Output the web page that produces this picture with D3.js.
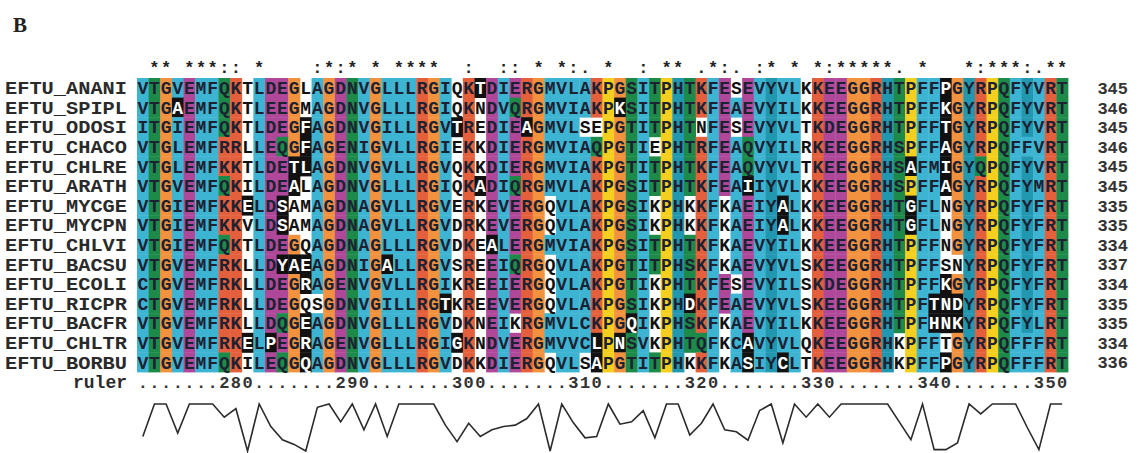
<!DOCTYPE html>
<html><head><meta charset="utf-8">
<script src="https://cdn.jsdelivr.net/npm/d3@7"></script>
<style>body{margin:0;background:#fff;overflow:hidden}</style>
</head><body>
<svg id="c" width="1138" height="453"></svg>
<script>
// ---------------- data ----------------
const names = ["EFTU_ANANI","EFTU_SPIPL","EFTU_ODOSI","EFTU_CHACO","EFTU_CHLRE","EFTU_ARATH","EFTU_MYCGE","EFTU_MYCPN","EFTU_CHLVI","EFTU_BACSU","EFTU_ECOLI","EFTU_RICPR","EFTU_BACFR","EFTU_CHLTR","EFTU_BORBU"];
const sequences = [
 "VTGVEMFQKTLDEGLAGDNVGLLLRGIQKTDIERGMVLAKPGSITPHTKFESEVYVLKKEEGGRHTPFFPGYRPQFYVRT",
 "VTGAEMFQKTLEEGMAGDNVGLLLRGIQKNDVQRGMVIAKPKSITPHTKFEAEVYILKKEEGGRHTPFFKGYRPQFYVRT",
 "ITGIEMFQKTLDEGFAGDNVGILLRGVTREDIEAGMVLSEPGTITPHTNFESEVYVLTKDEGGRHTPFFTGYRPQFYVRT",
 "VTGLEMFRRLLEQGFAGENIGVLLRGIEKKDIERGMVIAQPGTIEPHTRFEAQVYILRKEEGGRHSPFFAGYRPQFFVRT",
 "VTGLEMFKKTLDETLAGDNVGVLLRGVQKKDIERGMVIAKPGTITPHTKFEAQVYVLTKEEGGRHSAFMIGYQPQFYVRT",
 "VTGVEMFQKILDEALAGDNVGLLLRGIQKADIQRGMVLAKPGSITPHTKFEAIIYVLKKEEGGRHSPFFAGYRPQFYMRT",
 "VTGIEMFKKELDSAMAGDNAGVLLRGVERKEVERGQVLAKPGSIKPHKKFKAEIYALKKEEGGRHTGFLNGYRPQFYFRT",
 "VTGIEMFKKVLDSAMAGDNAGVLLRGVDRKEVERGQVLAKPGSIKPHKKFKAEIYALKKEEGGRHTGFLNGYRPQFYFRT",
 "VTGIEMFQKTLDEGQAGDNAGLLLRGVDKEALERGMVIAKPGSITPHTKFKAEVYILKKEEGGRHTPFFNGYRPQFYFRT",
 "VTGVEMFRKLLDYAEAGDNIGALLRGVSREEIQRGQVLAKPGTITPHSKFKAEVYVLSKEEGGRHTPFFSNYRPQFYFRT",
 "CTGVEMFRKLLDEGRAGENVGVLLRGIKREEIERGQVLAKPGTIKPHTKFESEVYILSKDEGGRHTPFFKGYRPQFYFRT",
 "CTGVEMFRKLLDEGQSGDNVGILLRGTKREEVERGQVLAKPGSIKPHDKFEAEVYVLSKEEGGRHTPFTNDYRPQFYFRT",
 "VTGVEMFRKLLDQGEAGDNVGLLLRGVDKNEIKRGMVLCKPGQIKPHSKFKAEVYILKKEEGGRHTPFHNKYRPQFYLRT",
 "VTGVEMFRKELPEGRAGENVGLLLRGIGKNDVERGMVVCLPNSVKPHTQFKCAVYVLQKEEGGRHKPFFTGYRPQFFFRT",
 "VTGVEMFQKILEQGQAGDNVGLLLRGVDKKDIERGQVLSAPGTITPHKKFKASIYCLTKEEGGRHKPFFPGYRPQFFFRT"
];
const endNumbers = [345,346,345,346,345,345,335,335,334,337,334,335,335,334,336];
const conservation = " ** ***:: *" + "    " + ":*:* *" + " ****" + "  :  ::" + " * *:. " + "*  : ** " + ".*:. :* * " + "*:*****. *" + "   *:***:.**";
const rulerFirst = 271, rulerLast = 350;
const rulerLabels = [280,290,300,310,320,330,340,350];
// highlighted (exceptional) residues: alignment column (1-based) per sequence
const highlighted = {
 EFTU_ANANI:[30,70], EFTU_SPIPL:[4,42,70], EFTU_ODOSI:[15,28,34,70], EFTU_CHACO:[15,70],
 EFTU_CHLRE:[14,15,67,70], EFTU_ARATH:[14,30,53,70], EFTU_MYCGE:[10,13,56,67], EFTU_MYCPN:[13,56,67],
 EFTU_CHLVI:[31], EFTU_BACSU:[13,14,15,22], EFTU_ECOLI:[15,70], EFTU_RICPR:[27,48,69,70,71],
 EFTU_BACFR:[15,43,69,70,71], EFTU_CHLTR:[10,12,15,28,40,42,53], EFTU_BORBU:[15,40,53,56,70]
};
// conservation quality curve, one value per column (0 = low, 1 = high)
const quality = [0.31,1,1,0.38,1,1,1,0.72,0.9,0,1,0.52,0.24,0.14,0,0.93,1,0.62,1,0.45,
 1,0.31,1,1,1,1,0.55,0.2,0.59,0.31,0.45,0.52,0.55,0.69,1,0,1,0.6,0.28,0.31,
 1,0.57,0.62,0.86,0.28,1,1,0.34,0.59,1,0.45,0.41,0.23,0.86,1,0.17,1,0.72,1,0.72,
 1,1,1,1,1,0.62,0.24,1,0.03,0.03,0.17,1,0.79,1,1,1,0.5,0.03,1,1];

// ClustalX colour parameters
const palette = {RED:"#e4603d",BLUE:"#3db4d2",GREEN:"#1e8a49",ORANGE:"#f2923f",CYAN:"#2297b0",PINK:"#ef8c8c",MAGENTA:"#b0489a",YELLOW:"#f5cf1f"};
const hyd = "wlvimafcyhp";
const consensusDefs = [["%",60,hyd],["#",80,hyd],["-",50,"ed"],["+",60,"kr"],["g",50,"g"],["n",50,"n"],["q",50,"qe"],["p",50,"p"],["t",50,"ts"]]
  .concat("ACDEFGHIKLMNPQRSTVWY".split("").map(c=>[c,85,c.toLowerCase()]));
const HY = "% # A C F H I L M V W Y P p";
const colourRules = [
 ["g","ORANGE",null],["p","YELLOW",null],
 ["t","GREEN","t S T % #"],["s","GREEN","t S T"],["n","GREEN","n N D"],["q","GREEN","q E + K R Q"],
 ["w","BLUE",HY],["l","BLUE",HY],["v","BLUE",HY],["i","BLUE",HY],["m","BLUE",HY],
 ["a","BLUE",HY+" T S s G"],["f","BLUE",HY],["c","BLUE","% # A F H I L M V W Y S P p"],["c","PINK","C"],
 ["h","CYAN",HY],["y","CYAN",HY],["e","MAGENTA","- D E q Q"],["d","MAGENTA","- D E n N"],
 ["k","RED","+ K R Q"],["r","RED","+ K R Q"]
];

// ---------------- layout ----------------
const svg = d3.select("#c");
const nCol = sequences[0].length;
const cols = d3.range(1, nCol+1);
const x = d3.scaleBand().domain(cols).range([137, 1068]).padding(0);
const y = d3.scaleBand().domain(names).range([78, 372]).padding(0);
const qy = d3.scaleLinear().domain([0,1]).range([451, 404]);
const mono = "'Liberation Mono','DejaVu Sans Mono',monospace";

// consensus symbols per column
const nSeq = sequences.length;
const colCons = cols.map(c => {
  const res = sequences.map(s => s[c-1].toLowerCase());
  const set = new Set();
  consensusDefs.forEach(([sym,th,grp]) => {
    const cnt = res.filter(r => grp.includes(r)).length;
    if (cnt*100/nSeq >= th) set.add(sym);
  });
  return set;
});
function colourOf(res, c) {
  const r = res.toLowerCase();
  for (const [aa, col, cond] of colourRules) {
    if (aa !== r) continue;
    if (cond === null) return palette[col];
    if (cond.split(" ").some(s => colCons[c-1].has(s))) return palette[col];
  }
  return null;
}

const cells = [];
names.forEach((nm,i) => {
  cols.forEach(c => {
    const res = sequences[i][c-1];
    const hi = (highlighted[nm]||[]).includes(c);
    cells.push({nm, c, res, hi, fill: hi ? "#111" : colourOf(res,c)});
  });
});

// title letter
svg.append("text").attr("x",13).attr("y",32).attr("font-family","'Liberation Serif','DejaVu Serif',serif")
  .attr("font-weight","bold").attr("font-size",21).attr("fill","#222").text("B");

// conservation symbols
svg.append("g").selectAll("text").data(cols).join("text")
  .attr("x", c => x(c)+x.bandwidth()/2).attr("y", 73).attr("text-anchor","middle")
  .attr("font-family",mono).attr("font-weight","bold").attr("font-size",17).attr("fill","#222")
  .text(c => conservation[c-1] === " " ? "" : conservation[c-1]);

// background cells
svg.append("g").selectAll("rect").data(cells.filter(d => d.fill)).join("rect")
  .attr("x", d => x(d.c)).attr("y", d => y(d.nm)).attr("width", x.bandwidth()+0.4).attr("height", y.bandwidth()+0.4)
  .attr("fill", d => d.fill);

// residues
svg.append("g").selectAll("text").data(cells).join("text")
  .attr("x", d => x(d.c)+x.bandwidth()/2).attr("y", d => y(d.nm)+y.bandwidth()/2).attr("dy","0.36em")
  .attr("text-anchor","middle").attr("font-family",mono).attr("font-weight","bold").attr("font-size",18)
  .attr("fill", d => d.hi ? "#fff" : (d.fill ? "#1d2233" : "#111")).text(d => d.res);

// names
svg.append("g").selectAll("text").data(names).join("text")
  .attr("x", 5).attr("y", d => y(d)+y.bandwidth()/2).attr("dy","0.36em")
  .attr("font-family",mono).attr("font-weight","bold").attr("font-size",18).attr("fill","#2a2a2a")
  .attr("textLength",122).attr("lengthAdjust","spacingAndGlyphs").text(d => d);

// end numbers
svg.append("g").selectAll("text").data(endNumbers).join("text")
  .attr("x", 1128).attr("y", (d,i) => y(names[i])+y.bandwidth()/2).attr("dy","0.36em").attr("text-anchor","end")
  .attr("font-family",mono).attr("font-weight","bold").attr("font-size",17).attr("fill","#333").text(d => d);

// ruler
const rulerY = 382;
svg.append("text").attr("x",127).attr("y",rulerY).attr("dy","0.36em").attr("text-anchor","end")
  .attr("font-family",mono).attr("font-weight","bold").attr("font-size",18).attr("fill","#2a2a2a").text("ruler");
const rulerChars = cols.map(c => ".");
rulerLabels.forEach(v => {
  const s = String(v), end = v - rulerFirst + 1;
  s.split("").forEach((ch,k) => { rulerChars[end - s.length + k] = ch; });
});
svg.append("g").selectAll("text").data(cols).join("text")
  .attr("x", c => x(c)+x.bandwidth()/2).attr("y", rulerY).attr("dy","0.36em").attr("text-anchor","middle")
  .attr("font-family",mono).attr("font-weight","bold").attr("font-size",17).attr("fill","#333")
  .text(c => rulerChars[c-1]);

// quality curve
const line = d3.line().x((d,i) => x(cols[i])+x.bandwidth()/2).y(d => qy(d));
svg.append("path").datum(quality).attr("d", line).attr("fill","none").attr("stroke","#2b2b2b")
  .attr("stroke-width",1.6).attr("stroke-linejoin","miter");
</script>
</body></html>
